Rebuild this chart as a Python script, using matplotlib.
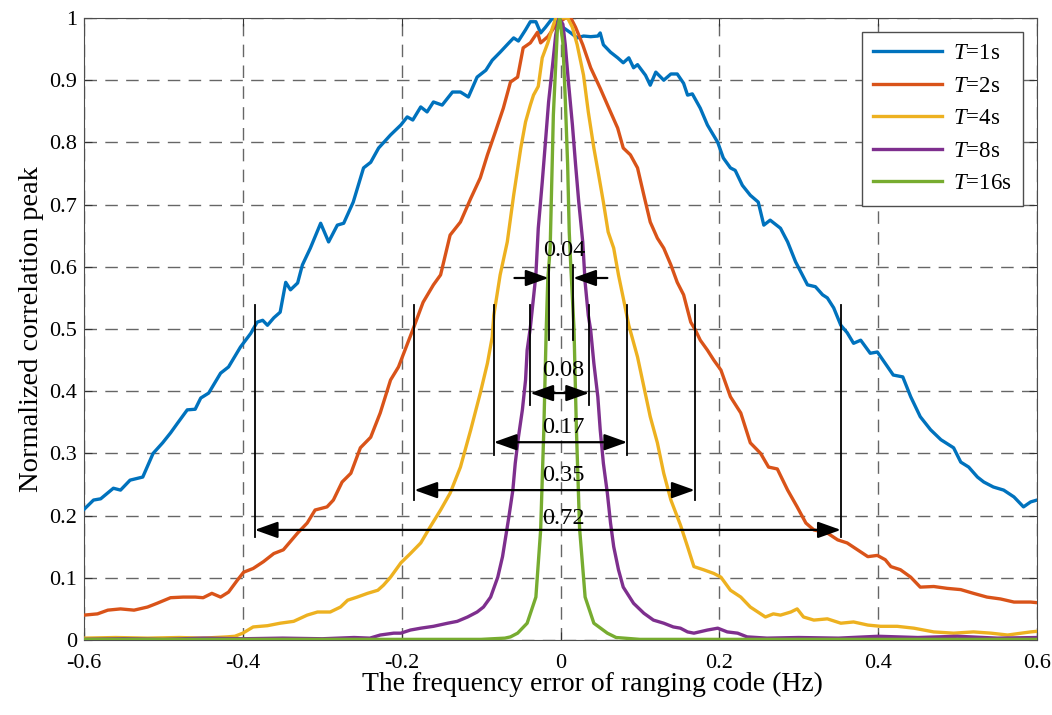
import matplotlib
matplotlib.use("Agg")
import matplotlib.pyplot as plt

plt.rcParams['font.family'] = ['Liberation Serif', 'DejaVu Serif']
plt.rcParams['mathtext.fontset'] = 'custom'
plt.rcParams['mathtext.rm'] = 'Liberation Serif'
plt.rcParams['mathtext.it'] = 'Liberation Serif:italic'

# T = 1 s
blue_x = [-0.600, -0.588, -0.579, -0.563, -0.554, -0.542, -0.526, -0.513, -0.501, -0.491, -0.482, -0.470,
          -0.460, -0.453, -0.443, -0.428, -0.418, -0.403, -0.390, -0.382, -0.375, -0.369, -0.361, -0.353,
          -0.346, -0.340, -0.331, -0.325, -0.315, -0.302, -0.292, -0.281, -0.273, -0.261, -0.248, -0.239,
          -0.229, -0.214, -0.201, -0.193, -0.186, -0.176, -0.168, -0.160, -0.149, -0.136, -0.126, -0.116,
          -0.105, -0.094, -0.086, -0.076, -0.065, -0.059, -0.053, -0.044, -0.038, -0.031, -0.025, -0.019,
          -0.010, 0.003, 0.013, 0.021, 0.029, 0.038, 0.047, 0.050, 0.054, 0.063, 0.072, 0.079, 0.086, 0.092,
          0.097, 0.107, 0.113, 0.120, 0.130, 0.139, 0.147, 0.155, 0.160, 0.166, 0.176, 0.185, 0.198, 0.205,
          0.214, 0.220, 0.229, 0.239, 0.249, 0.256, 0.264, 0.277, 0.286, 0.296, 0.311, 0.321, 0.330, 0.336,
          0.344, 0.353, 0.361, 0.369, 0.378, 0.390, 0.399, 0.412, 0.419, 0.431, 0.441, 0.453, 0.466, 0.479,
          0.495, 0.504, 0.514, 0.525, 0.533, 0.545, 0.558, 0.571, 0.583, 0.592, 0.600]
blue_y = [0.210, 0.225, 0.227, 0.244, 0.241, 0.257, 0.262, 0.300, 0.317, 0.333, 0.349, 0.370,
          0.371, 0.389, 0.397, 0.429, 0.439, 0.471, 0.493, 0.511, 0.514, 0.506, 0.518, 0.527,
          0.575, 0.563, 0.574, 0.603, 0.630, 0.670, 0.640, 0.667, 0.670, 0.704, 0.759, 0.768,
          0.791, 0.812, 0.828, 0.841, 0.836, 0.857, 0.849, 0.865, 0.860, 0.881, 0.881, 0.873,
          0.905, 0.916, 0.932, 0.945, 0.960, 0.968, 0.963, 0.981, 0.994, 0.994, 0.976, 0.985,
          1.000, 0.985, 0.976, 0.968, 0.971, 0.970, 0.971, 0.976, 0.957, 0.945, 0.936, 0.928, 0.936, 0.920,
          0.925, 0.908, 0.892, 0.913, 0.900, 0.910, 0.910, 0.895, 0.876, 0.878, 0.855, 0.828, 0.800, 0.775,
          0.759, 0.755, 0.731, 0.715, 0.704, 0.667, 0.675, 0.662, 0.640, 0.608, 0.571, 0.568, 0.555, 0.550,
          0.534, 0.506, 0.494, 0.477, 0.482, 0.461, 0.463, 0.439, 0.426, 0.423, 0.391, 0.359, 0.338, 0.322,
          0.309, 0.286, 0.278, 0.262, 0.254, 0.246, 0.241, 0.230, 0.214, 0.222, 0.225]

# T = 2 s
orange_x = [-0.600, -0.583, -0.570, -0.554, -0.537, -0.520, -0.508, -0.491, -0.475, -0.460, -0.450, -0.439,
            -0.428, -0.418, -0.407, -0.399, -0.387, -0.374, -0.361, -0.349, -0.331, -0.319, -0.309, -0.294,
            -0.286, -0.275, -0.264, -0.252, -0.239, -0.227, -0.214, -0.204, -0.185, -0.173, -0.160, -0.151,
            -0.139, -0.126, -0.113, -0.101, -0.092, -0.082, -0.072, -0.063, -0.054, -0.047, -0.038, -0.029,
            -0.025, -0.016, -0.005, 0.006, 0.013, 0.019, 0.028, 0.038, 0.050, 0.063, 0.072, 0.079, 0.088,
            0.097, 0.105, 0.113, 0.122, 0.130, 0.139, 0.147, 0.155, 0.164, 0.170, 0.176, 0.185, 0.193, 0.202,
            0.214, 0.227, 0.239, 0.252, 0.262, 0.273, 0.286, 0.298, 0.309, 0.319, 0.336, 0.349, 0.361, 0.374,
            0.387, 0.399, 0.409, 0.416, 0.428, 0.441, 0.453, 0.470, 0.487, 0.504, 0.520, 0.537, 0.554, 0.571,
            0.592, 0.600]
orange_y = [0.040, 0.042, 0.048, 0.050, 0.048, 0.053, 0.059, 0.068, 0.069, 0.069, 0.068, 0.075,
            0.069, 0.077, 0.096, 0.109, 0.115, 0.126, 0.139, 0.145, 0.172, 0.188, 0.209, 0.214,
            0.225, 0.254, 0.268, 0.309, 0.326, 0.365, 0.418, 0.439, 0.502, 0.543, 0.571, 0.587,
            0.651, 0.672, 0.710, 0.743, 0.780, 0.817, 0.855, 0.897, 0.905, 0.952, 0.960, 0.977,
            0.960, 0.970, 0.990, 1.000, 1.000, 0.985, 0.957, 0.920, 0.887, 0.849, 0.823, 0.791, 0.780,
            0.759, 0.715, 0.672, 0.646, 0.630, 0.603, 0.575, 0.555, 0.511, 0.498, 0.482, 0.466, 0.450, 0.434,
            0.391, 0.365, 0.317, 0.300, 0.278, 0.275, 0.241, 0.214, 0.188, 0.177, 0.172, 0.161, 0.156, 0.145,
            0.134, 0.136, 0.129, 0.118, 0.113, 0.101, 0.085, 0.086, 0.083, 0.081, 0.075, 0.069, 0.066, 0.061,
            0.061, 0.060]

# T = 4 s
yellow_x = [-0.600, -0.560, -0.520, -0.480, -0.450, -0.420, -0.410, -0.400, -0.387, -0.369, -0.353, -0.336,
            -0.319, -0.306, -0.290, -0.277, -0.268, -0.256, -0.243, -0.230, -0.223, -0.214, -0.201, -0.189,
            -0.176, -0.164, -0.151, -0.139, -0.126, -0.113, -0.101, -0.092, -0.086, -0.084, -0.076, -0.067,
            -0.059, -0.050, -0.044, -0.038, -0.034, -0.028, -0.023, -0.016, -0.010, -0.006, 0.009, 0.015,
            0.021, 0.029, 0.035, 0.042, 0.048, 0.054, 0.060, 0.067, 0.073, 0.079, 0.086, 0.097, 0.105, 0.113,
            0.122, 0.130, 0.139, 0.151, 0.160, 0.168, 0.180, 0.193, 0.202, 0.214, 0.227, 0.239, 0.258, 0.268,
            0.277, 0.290, 0.298, 0.306, 0.319, 0.336, 0.353, 0.369, 0.387, 0.403, 0.424, 0.445, 0.470, 0.495,
            0.520, 0.542, 0.563, 0.592, 0.600]
yellow_y = [0.003, 0.004, 0.003, 0.004, 0.003, 0.005, 0.006, 0.011, 0.021, 0.023, 0.027, 0.030,
            0.040, 0.045, 0.045, 0.053, 0.064, 0.069, 0.075, 0.080, 0.088, 0.101, 0.124, 0.139,
            0.156, 0.182, 0.209, 0.236, 0.278, 0.338, 0.397, 0.445, 0.487, 0.522, 0.587, 0.640,
            0.715, 0.791, 0.833, 0.860, 0.876, 0.890, 0.936, 0.960, 0.985, 1.000, 1.000, 0.985,
            0.957, 0.908, 0.849, 0.791, 0.748, 0.704, 0.656, 0.630, 0.587, 0.550, 0.506, 0.455, 0.407, 0.359,
            0.317, 0.268, 0.225, 0.185, 0.150, 0.118, 0.113, 0.107, 0.101, 0.080, 0.069, 0.053, 0.037, 0.042,
            0.040, 0.045, 0.050, 0.037, 0.032, 0.034, 0.027, 0.029, 0.024, 0.022, 0.022, 0.019, 0.013, 0.011,
            0.013, 0.011, 0.008, 0.013, 0.014]

# T = 8 s
purple_x = [-0.600, -0.550, -0.500, -0.450, -0.400, -0.350, -0.300, -0.260, -0.240, -0.227, -0.210, -0.201,
            -0.189, -0.176, -0.160, -0.142, -0.130, -0.117, -0.105, -0.097, -0.088, -0.079, -0.073, -0.069,
            -0.065, -0.060, -0.057, -0.053, -0.048, -0.044, -0.042, -0.038, -0.031, -0.028, -0.023, -0.019,
            -0.015, -0.010, -0.006, -0.002, 0.003, 0.006, 0.010, 0.015, 0.019, 0.023, 0.028, 0.031, 0.035,
            0.038, 0.042, 0.047, 0.050, 0.054, 0.059, 0.063, 0.067, 0.073, 0.079, 0.092, 0.105, 0.117, 0.130,
            0.142, 0.151, 0.160, 0.168, 0.185, 0.198, 0.210, 0.223, 0.235, 0.260, 0.300, 0.350, 0.400, 0.450,
            0.500, 0.550, 0.600]
purple_y = [0.001, 0.002, 0.001, 0.003, 0.002, 0.003, 0.002, 0.004, 0.003, 0.008, 0.011, 0.011,
            0.016, 0.019, 0.022, 0.027, 0.030, 0.037, 0.045, 0.053, 0.069, 0.101, 0.134, 0.166,
            0.198, 0.241, 0.284, 0.326, 0.370, 0.418, 0.466, 0.502, 0.587, 0.662, 0.736, 0.800,
            0.865, 0.924, 0.973, 1.000, 0.990, 0.957, 0.897, 0.828, 0.764, 0.704, 0.640, 0.575, 0.522,
            0.498, 0.445, 0.391, 0.338, 0.284, 0.236, 0.188, 0.150, 0.113, 0.085, 0.059, 0.043, 0.032, 0.027,
            0.021, 0.019, 0.013, 0.011, 0.016, 0.019, 0.013, 0.011, 0.005, 0.003, 0.004, 0.003, 0.006, 0.004,
            0.006, 0.003, 0.004]

# T = 16 s
green_x = [-0.600, -0.300, -0.100, -0.070, -0.063, -0.054, -0.042, -0.031, -0.025, -0.021, -0.018, -0.016,
           -0.013, -0.009, -0.004, -0.001, 0.003, 0.006, 0.009, 0.011, 0.013, 0.017, 0.020, 0.024, 0.031,
           0.042, 0.059, 0.070, 0.100, 0.300, 0.600]
green_y = [0.001, 0.001, 0.001, 0.003, 0.005, 0.011, 0.027, 0.069, 0.177, 0.338, 0.498, 0.580,
           0.630, 0.844, 0.980, 1.000, 0.960, 0.870, 0.764, 0.656, 0.600, 0.500, 0.340, 0.180, 0.069,
           0.027, 0.011, 0.004, 0.001, 0.001, 0.001]

labels = ['$T$=1s', '$T$=2s', '$T$=4s', '$T$=8s', '$T$=16s']
colors = ['#0072BD', '#D95319', '#EDB120', '#7E2F8E', '#77AC30']

# bandwidth annotations: text, left x, right x, bottom of bars, arrow y, text y
bw_text = ['0.72', '0.35', '0.17', '0.08']
bw_left = [-0.385, -0.184, -0.084, -0.038]
bw_right = [0.353, 0.169, 0.084, 0.036]
bw_bottom = [0.165, 0.225, 0.297, 0.378]
bw_arrow = [0.177, 0.241, 0.318, 0.397]
bw_label = [0.196, 0.265, 0.341, 0.434]

fig = plt.figure(figsize=(10.52, 7.15), dpi=100)
ax = fig.add_axes([84 / 1052, 75 / 715, 953 / 1052, 622 / 715])

series = [(blue_x, blue_y), (orange_x, orange_y), (yellow_x, yellow_y), (purple_x, purple_y), (green_x, green_y)]
for (xs, ys), c, lab in zip(series, colors, labels):
    ax.plot(xs, ys, color=c, lw=2.4, label=lab, zorder=3)

ax.set_xlim(-0.6, 0.6)
ax.set_ylim(0, 1)
ax.set_xticks([-0.6, -0.4, -0.2, 0, 0.2, 0.4, 0.6])
ax.set_xticklabels(['-0.6', '-0.4', '-0.2', '0', '0.2', '0.4', '0.6'])
ax.set_yticks([0, 0.1, 0.2, 0.3, 0.4, 0.5, 0.6, 0.7, 0.8, 0.9, 1])
ax.set_yticklabels(['0', '0.1', '0.2', '0.3', '0.4', '0.5', '0.6', '0.7', '0.8', '0.9', '1'])
ax.tick_params(direction='in', top=True, right=True, labelsize=16, length=6, color='0.2')
ax.tick_params(axis='x', pad=10)
ax.tick_params(axis='y', pad=5)
for s in ax.spines.values():
    s.set_color('0.3')
ax.grid(True, color='0.4', linestyle=(0, (9, 6)), lw=1.0)
ax.set_axisbelow(True)

ax.set_xlabel('The frequency error of ranging code (Hz)', fontsize=20)
ax.xaxis.set_label_coords(0.533, -0.071, transform=ax.transAxes)
ax.xaxis.label.set_va('center')
ax.set_ylabel('Normalized correlation peak', fontsize=20.5, labelpad=4)

arrow_kw = dict(arrowstyle='<|-|>,head_length=1.4,head_width=0.5', color='black', lw=1.6,
                shrinkA=0, shrinkB=0)
for t, xl, xr, yb, ya, yt in zip(bw_text, bw_left, bw_right, bw_bottom, bw_arrow, bw_label):
    ax.plot([xl, xl], [0.538, yb], color='black', lw=1.3, zorder=4)
    ax.plot([xr, xr], [0.538, yb], color='black', lw=1.3, zorder=4)
    ax.annotate('', xy=(xl, ya), xytext=(xr, ya), arrowprops=arrow_kw, zorder=5)
    ax.text(0.004, yt, t, ha='center', va='center', fontsize=17.5, zorder=6)

# 0.04 annotation with arrows pointing inward
ax.plot([-0.015, -0.015], [0.603, 0.482], color='black', lw=1.3, zorder=4)
ax.plot([0.016, 0.016], [0.603, 0.482], color='black', lw=1.3, zorder=4)
in_kw = dict(arrowstyle='-|>,head_length=1.4,head_width=0.5', color='black', lw=1.6, shrinkA=0, shrinkB=0)
ax.annotate('', xy=(-0.015, 0.582), xytext=(-0.058, 0.582), arrowprops=in_kw)
ax.annotate('', xy=(0.016, 0.582), xytext=(0.059, 0.582), arrowprops=in_kw)
ax.text(0.005, 0.626, '0.04', ha='center', va='center', fontsize=17.5, zorder=6)

leg = ax.legend(loc='upper right', fontsize=16.5, fancybox=False, framealpha=1, edgecolor='0.3',
                handlelength=3.0, handletextpad=0.5, borderaxespad=0.6, labelspacing=0.5,
                borderpad=0.5)
leg.get_frame().set_linewidth(1.0)

fig.savefig('out.png', dpi=100)
